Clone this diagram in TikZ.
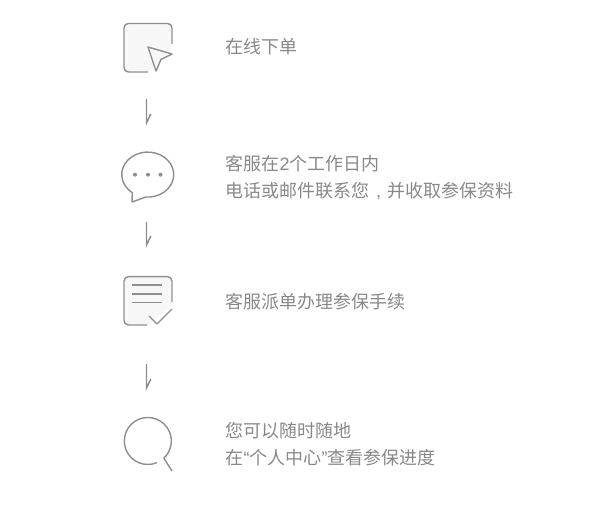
\documentclass[tikz,border=0pt]{standalone}
\usepackage{fontspec}
\setmainfont{Noto Sans CJK SC}
\newfontfamily\latinfont{Liberation Sans}
\usetikzlibrary{positioning}
\definecolor{icongray}{HTML}{8E8E8E}
\definecolor{textgray}{HTML}{888888}
\definecolor{paperfill}{HTML}{F7F7F7}

\begin{document}
\begin{tikzpicture}[
    x=0.02cm, y=-0.02cm,
    icon/.style={draw=icongray, line width=0.8pt, line join=round},
    flowline/.style={draw=icongray, line width=0.85pt},
    label/.style={anchor=west, inner sep=0pt, text=textgray, font=\fontsize{10.24pt}{15pt}\selectfont}
]
\useasboundingbox (0,0) rectangle (595,510);

% Step 1: order online
\fill[paperfill] (125,24) -- (171,24) -- (171,50) -- (150,71) -- (125,71) -- cycle;
\draw[icon, rounded corners=2.5pt] (172,44) -- (172,23.5) -- (124,23.5) -- (124,72) -- (148,72);
\draw[icon] (148,47) -- (172,54) -- (161,59.5) -- (156,71) -- cycle;
\node[label] (order) at (225.3,47) {在线下单};

% Step 2: service calls back
\draw[icon] (132.3,192) -- (132,202) -- (146,197) -- (150,197) arc[start angle=85, end angle=-232, x radius=26, y radius=22.5];
\foreach \x in {135,148,160.5} {
    \fill[icongray] (\x,174.7) circle[radius=2];
}
\node[label] (call) at (225.3,164) {客服在{\latinfont 2}个工作日内};
\node[label] (collect) at (225.3,191) {电话或邮件联系您\makebox[0.36cm][c]{\latinfont ,}并收取参保资料};

% Step 3: handle the insurance
\fill[paperfill] (125,278) -- (171,278) -- (171,305) -- (150,324) -- (125,324) -- cycle;
\draw[icon, rounded corners=2.5pt] (172,302) -- (172,276.7) -- (124,276.7) -- (124,325) -- (147,325);
\foreach \y in {285,294,302.7} {
    \draw[icon] (132,\y) -- (162,\y);
}
\draw[icon] (149,316) -- (157,324) -- (172,309);
\node[label] (handle) at (225.3,302) {客服派单办理参保手续};

% Step 4: check progress
\draw[icon] (157,462.6) arc[start angle=67, end angle=407, radius=23.5] -- (172,471);
\node[label] (anytime) at (225.3,431) {您可以随时随地};
\node[label] (center) at (225.3,458) {在{\latinfont “}个人中心{\latinfont ”}查看参保进度};

% Arrows between steps
\foreach \i/\ytop/\ybot in {1/99/123, 2/222/245, 3/364/388} {
    \coordinate (top\i) at (146.5,\ytop);
    \coordinate (bot\i) at (146.5,\ybot);
    \draw[flowline] (top\i) -- (bot\i) -- ++(4.3,-9);
}

\end{tikzpicture}
\end{document}
